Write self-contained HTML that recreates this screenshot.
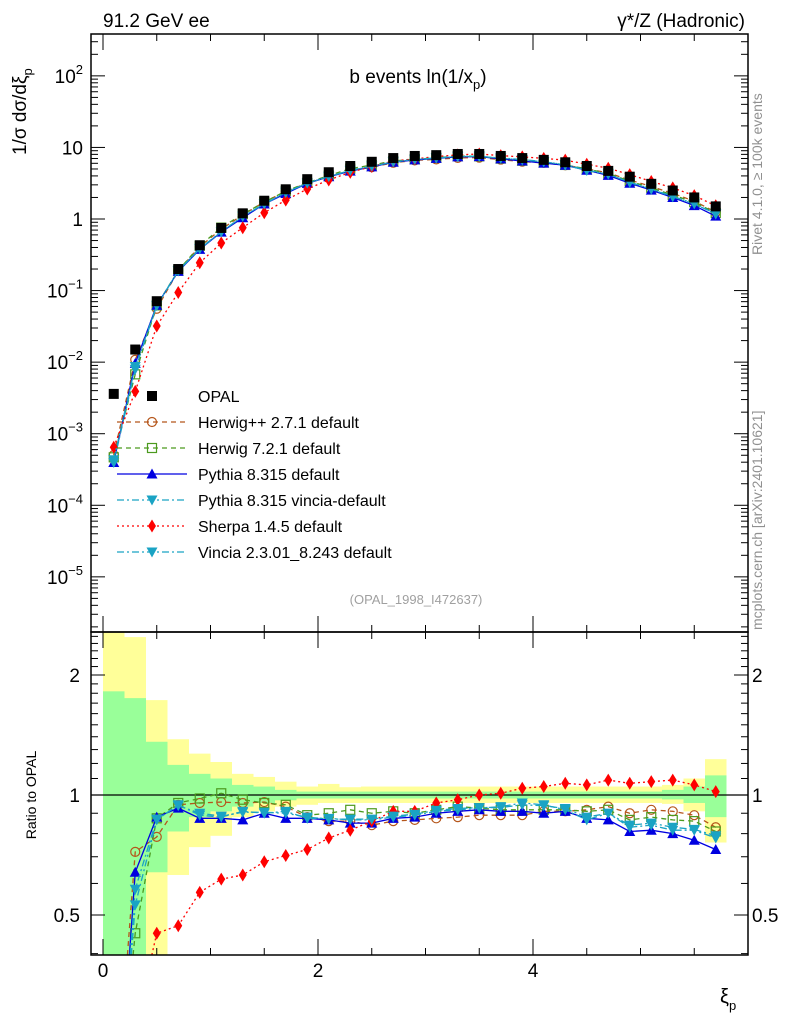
<!DOCTYPE html>
<html><head><meta charset="utf-8">
<style>
html,body{margin:0;padding:0;background:#fff;overflow:hidden;width:786px;height:1024px;}
svg{display:block;font-family:"Liberation Sans","DejaVu Sans",sans-serif;}
</style></head>
<body>
<svg id="chart" width="786" height="1024" viewBox="0 0 786 1024" xmlns="http://www.w3.org/2000/svg">
<text x="103" y="27" font-size="19">91.2 GeV ee</text>
<text x="745" y="27" font-size="19" text-anchor="end">γ*/Z (Hadronic)</text>
<text x="418" y="83" font-size="19" text-anchor="middle">b events ln(1/x<tspan font-size="13" dy="6">p</tspan><tspan dy="-6">)</tspan></text>
<text x="416" y="604" font-size="13" fill="#a0a0a0" text-anchor="middle">(OPAL_1998_I472637)</text>
<text transform="translate(762,255) rotate(-90)" font-size="14" fill="#909090">Rivet 4.1.0, ≥ 100k events</text>
<text transform="translate(762,630) rotate(-90)" font-size="14" fill="#909090">mcplots.cern.ch [arXiv:2401.10621]</text>
<text transform="translate(26,155) rotate(-90)" font-size="19">1/σ  dσ/dξ<tspan font-size="13" dy="6">p</tspan></text>
<text transform="translate(36,795) rotate(-90)" font-size="14" text-anchor="middle">Ratio to OPAL</text>
<text x="720" y="1003" font-size="20">ξ<tspan font-size="13" dy="7">p</tspan></text>
<g id="bands"></g><g id="series"></g><g id="axes"></g><g id="legend"></g>
</svg>
<script>
const xCenters=[0.1,0.3,0.5,0.7,0.9,1.1,1.3,1.5,1.7,1.9,2.1,2.3,2.5,2.7,2.9,3.1,3.3,3.5,3.7,3.9,4.1,4.3,4.5,4.7,4.9,5.1,5.3,5.5,5.7];
const opal=[0.0036,0.015,0.071,0.2,0.43,0.75,1.2,1.8,2.6,3.6,4.5,5.5,6.3,7.1,7.6,7.8,8.1,8.1,7.6,7.1,6.7,6.2,5.5,4.7,3.9,3.1,2.5,2.0,1.5];
const ratioHerwigpp=[0.14,0.72,0.785,0.945,0.955,0.96,0.955,0.96,0.935,0.88,0.86,0.86,0.84,0.86,0.866,0.874,0.88,0.89,0.89,0.89,0.91,0.91,0.918,0.935,0.9,0.918,0.91,0.89,0.83];
const ratioHerwig7=[0.13,0.45,0.874,0.955,0.98,1.01,0.973,0.955,0.945,0.89,0.9,0.918,0.9,0.91,0.9,0.918,0.935,0.927,0.918,0.918,0.918,0.918,0.91,0.918,0.866,0.88,0.866,0.86,0.81];
const ratioPythia=[0.11,0.64,0.88,0.927,0.874,0.874,0.866,0.9,0.874,0.874,0.866,0.85,0.85,0.874,0.88,0.9,0.91,0.918,0.91,0.91,0.9,0.91,0.874,0.866,0.81,0.816,0.8,0.77,0.73];
const ratioPythiaVincia=[0.11,0.53,0.866,0.945,0.89,0.88,0.91,0.9,0.91,0.874,0.874,0.866,0.866,0.88,0.89,0.91,0.918,0.927,0.935,0.955,0.945,0.918,0.866,0.9,0.83,0.84,0.816,0.816,0.78];
const ratioSherpa=[0.18,0.26,0.45,0.47,0.57,0.615,0.63,0.68,0.705,0.73,0.78,0.816,0.86,0.91,0.91,0.955,0.973,1.0,1.01,1.04,1.05,1.07,1.06,1.09,1.07,1.08,1.09,1.06,1.02];
const ratioVincia=[0.12,0.58,0.87,0.94,0.9,0.885,0.905,0.905,0.9,0.88,0.87,0.87,0.87,0.885,0.895,0.915,0.925,0.93,0.93,0.945,0.94,0.925,0.88,0.9,0.84,0.85,0.83,0.82,0.79];
const yellowHi=[2.6,2.49,1.73,1.38,1.27,1.21,1.13,1.11,1.08,1.05,1.066,1.046,1.05,1.05,1.05,1.05,1.05,1.05,1.05,1.05,1.05,1.05,1.05,1.05,1.05,1.05,1.06,1.1,1.23];
const yellowLo=[0.3,0.3,0.3,0.63,0.74,0.79,0.88,0.91,0.935,0.945,0.955,0.955,0.955,0.955,0.955,0.955,0.955,0.955,0.955,0.955,0.955,0.955,0.955,0.955,0.955,0.955,0.95,0.91,0.76];
const greenHi=[1.82,1.75,1.36,1.19,1.13,1.1,1.06,1.05,1.03,1.02,1.02,1.02,1.02,1.02,1.02,1.02,1.02,1.02,1.02,1.02,1.02,1.02,1.02,1.02,1.02,1.02,1.03,1.05,1.12];
const greenLo=[0.3,0.3,0.64,0.81,0.88,0.91,0.935,0.955,0.97,0.98,0.98,0.98,0.98,0.98,0.98,0.98,0.98,0.98,0.98,0.98,0.98,0.98,0.98,0.98,0.98,0.98,0.975,0.955,0.88];
const xTickLabels=["0","2","4"];
const yTickExps=[2,1,0,-1,-2,-3,-4,-5];
const rTickLabels=["0.5","1","2"];

const NS="http://www.w3.org/2000/svg";
const L=91,R=748,MT=34,MB=632,RT=632,RB=955;
const X=v=>103+107.5*v;
const Y=v=>219-71.57*Math.log10(v);
const YR=r=>795-120*Math.log2(r);
function mk(tag,attrs,parent){const e=document.createElementNS(NS,tag);for(const k in attrs)e.setAttribute(k,attrs[k]);parent.appendChild(e);return e;}
const gB=document.getElementById('bands'),gS=document.getElementById('series'),gA=document.getElementById('axes'),gL=document.getElementById('legend');
const clipDefs=mk('defs',{},gB);
const c1=mk('clipPath',{id:'cm'},clipDefs);mk('rect',{x:L,y:MT,width:R-L,height:MB-MT},c1);
const c2=mk('clipPath',{id:'cr'},clipDefs);mk('rect',{x:L,y:RT,width:R-L,height:RB-RT},c2);
const bandG=mk('g',{'clip-path':'url(#cr)'},gB);
const clampR=y=>Math.max(RT,Math.min(RB,y));
xCenters.forEach((c,i)=>{
  const x0=X(c-0.1),w=X(c+0.1)-x0;
  const yt=clampR(YR(yellowHi[i])),yb=clampR(YR(yellowLo[i]));
  const y=mk('rect',{x:x0,y:yt,width:w,height:yb-yt,fill:'#ffff99'},bandG);
  
  
  const gt=clampR(YR(greenHi[i])),gb=clampR(YR(greenLo[i]));
  const g=mk('rect',{x:x0,y:gt,width:w,height:gb-gt,fill:'#99ff99'},bandG);
  
  
});
const unity=mk('line',{x1:L,x2:R,y1:YR(1),y2:YR(1),stroke:'#000','stroke-width':1.2},gB);



function marker(kind,x,y,col,parent){
  let e;
  if(kind==='circle')e=mk('circle',{cx:x,cy:y,r:4.5,fill:'none',stroke:col,'stroke-width':1.2},parent);
  else if(kind==='square')e=mk('rect',{x:x-4.5,y:y-4.5,width:9,height:9,fill:'none',stroke:col,'stroke-width':1.2},parent);
  else if(kind==='fsquare')e=mk('rect',{x:x-5,y:y-5,width:10,height:10,fill:col},parent);
  else if(kind==='up')e=mk('polygon',{points:`${x},${y-5.5} ${x-5.5},${y+4.5} ${x+5.5},${y+4.5}`,fill:col},parent);
  else if(kind==='down')e=mk('polygon',{points:`${x},${y+5.5} ${x-5.5},${y-4.5} ${x+5.5},${y-4.5}`,fill:col},parent);
  else e=mk('polygon',{points:`${x},${y-6.5} ${x-4},${y} ${x},${y+6.5} ${x+4},${y}`,fill:col},parent);
  return e;
}
// clip polyline to vertical range [top,bot]
function clipPts(pts,top,bot){
  const out=[];
  for(let i=0;i<pts.length;i++){
    const p=pts[i],inside=p[1]>=top&&p[1]<=bot;
    if(i>0){const q=pts[i-1],qin=q[1]>=top&&q[1]<=bot;
      if(inside!==qin){const by=(inside?q[1]:p[1])>bot?bot:top;const t=(by-q[1])/(p[1]-q[1]);out.push([q[0]+t*(p[0]-q[0]),by]);}}
    if(inside)out.push(p);
  }
  return out;
}
const series=[
 {n:'herwigpp',label:'Herwig++ 2.7.1 default',r:ratioHerwigpp,c:'#b5561b',d:'5,4',m:'circle'},
 {n:'herwig7',label:'Herwig 7.2.1 default',r:ratioHerwig7,c:'#4c9a1e',d:'5,4',m:'square'},
 {n:'pythia',label:'Pythia 8.315 default',r:ratioPythia,c:'#0000e0',d:'',m:'up'},
 {n:'pythia-vincia',label:'Pythia 8.315 vincia-default',r:ratioPythiaVincia,c:'#1aa3c4',d:'7,3,2,3',m:'down'},
 {n:'sherpa',label:'Sherpa 1.4.5 default',r:ratioSherpa,c:'#ff0000',d:'2,3',m:'diamond'},
 {n:'vincia',label:'Vincia 2.3.01_8.243 default',r:ratioVincia,c:'#1aa3c4',d:'7,3,2,3',m:'down'}
];
const mainG=mk('g',{'clip-path':'url(#cm)'},gS),ratG=mk('g',{'clip-path':'url(#cr)'},gS);
series.forEach(s=>{
  const pm=xCenters.map((c,i)=>[X(c),Y(s.r[i]*opal[i])]);
  const pr=xCenters.map((c,i)=>[X(c),YR(s.r[i])]);
  [[pm,mainG,'main',MT,MB],[pr,ratG,'ratio',RT,RB]].forEach(([pts,par,tag,top,bot])=>{
    const cp=clipPts(pts,top,bot);
    const l=mk('polyline',{points:cp.map(p=>p.join(',')).join(' '),fill:'none',stroke:s.c,'stroke-width':1.3,'stroke-dasharray':s.d},par);
    
    
    pts.forEach(p=>{if(p[1]<top||p[1]>bot)return;const m=marker(s.m,p[0],p[1],s.c,par);
      
      });
  });
});
xCenters.forEach((c,i)=>{const m=marker('fsquare',X(c),Y(opal[i]),'#000',mainG);
  
  });

[[MT,MB,'main-frame'],[RT,RB,'ratio-frame']].forEach(([t,b,n])=>{const f=mk('rect',{x:L,y:t,width:R-L,height:b-t,fill:'none',stroke:'#000','stroke-width':1.5},gA);
  
  });
for(let k=0;k<=12;k++){const v=k*0.5,x=X(v);if(x>R)break;const len=(k%4===0)?16:7;
  [[MT,1],[MB,-1],[RT,1],[RB,-1]].forEach(([y0,dir])=>mk('line',{x1:x,x2:x,y1:y0,y2:y0+dir*len,stroke:'#000','stroke-width':1},gA));}
xTickLabels.forEach(t=>{const e=mk('text',{x:X(+t),y:977,'font-size':19,'text-anchor':'middle'},gA);e.textContent=t;
  
  });
for(let d=-6;d<=2;d++){for(let m=1;m<10;m++){const v=m*Math.pow(10,d),y=Y(v);if(y<MT||y>MB)continue;const len=m===1?14:7;
  mk('line',{x1:L,x2:L+len,y1:y,y2:y,stroke:'#000'},gA);mk('line',{x1:R,x2:R-len,y1:y,y2:y,stroke:'#000'},gA);}}
yTickExps.forEach(e=>{const t=mk('text',{x:83,y:Y(Math.pow(10,e))+7,'font-size':19,'text-anchor':'end'},gA);
  
  
  if(e===1)t.textContent='10';else if(e===0)t.textContent='1';
  else{t.textContent='10';const s=mk('tspan',{dy:-9,'font-size':13},t);s.textContent=String(e).replace('-','−');}});
for(let r=0.4;r<=2.6;r+=0.1){const y=YR(r);if(y<RT||y>RB)continue;const maj=[0.5,1,2].some(v=>Math.abs(v-r)<1e-6);const len=maj?14:7;
  mk('line',{x1:L,x2:L+len,y1:y,y2:y,stroke:'#000'},gA);mk('line',{x1:R,x2:R-len,y1:y,y2:y,stroke:'#000'},gA);}
rTickLabels.forEach(t=>{[[80,'end'],[752,'start']].forEach(([x,a])=>{const e=mk('text',{x:x,y:YR(+t)+7,'font-size':19,'text-anchor':a},gA);e.textContent=t;
  
  });});
const rows=[{label:'OPAL',c:'#000',m:'fsquare',d:null}].concat(series);
rows.forEach((s,i)=>{const y=396+i*26;const g=mk('g',{},gL);
  
  
  if(s.d!==null)mk('line',{x1:117,x2:187,y1:y,y2:y,stroke:s.c,'stroke-width':1.3,'stroke-dasharray':s.d},g);
  marker(s.m,152,y,s.c,g);
  const t=mk('text',{x:198,y:y+6,'font-size':16},g);t.textContent=s.label;});
</script>
</body></html>
